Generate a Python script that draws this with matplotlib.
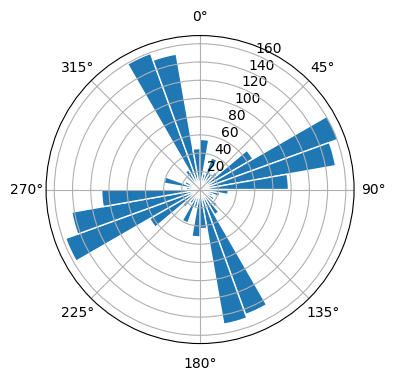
import numpy as np
import matplotlib
matplotlib.use("Agg")
import matplotlib.pyplot as plt

# Direction bins (degrees, bin start, 10-degree wide), clockwise from North
bin_starts = [0, 10, 20, 30, 40, 50, 60, 70, 80, 90, 100, 110,
              120, 130, 140, 150, 160, 170, 180, 190, 200, 210, 220, 230,
              240, 250, 260, 270, 280, 290, 300, 310, 320, 330, 340, 350]
counts = [55, 18, 37, 20, 25, 67, 161, 151, 97, 31, 22, 15,
          18, 25, 32, 146, 150, 43, 52, 20, 39, 18, 25, 64,
          157, 143, 108, 15, 40, 18, 12, 20, 25, 159, 151, 45]
bin_width = 10

fig = plt.figure(figsize=(4, 4), dpi=100)
ax = fig.add_subplot(111, projection="polar")
ax.set_theta_zero_location("N")
ax.set_theta_direction(-1)
ax.bar(np.deg2rad(bin_starts), counts, width=np.deg2rad(bin_width),
       align="edge", color="#1f77b4", edgecolor="white", linewidth=1)
fig.savefig("out.png", dpi=100, bbox_inches="tight")
